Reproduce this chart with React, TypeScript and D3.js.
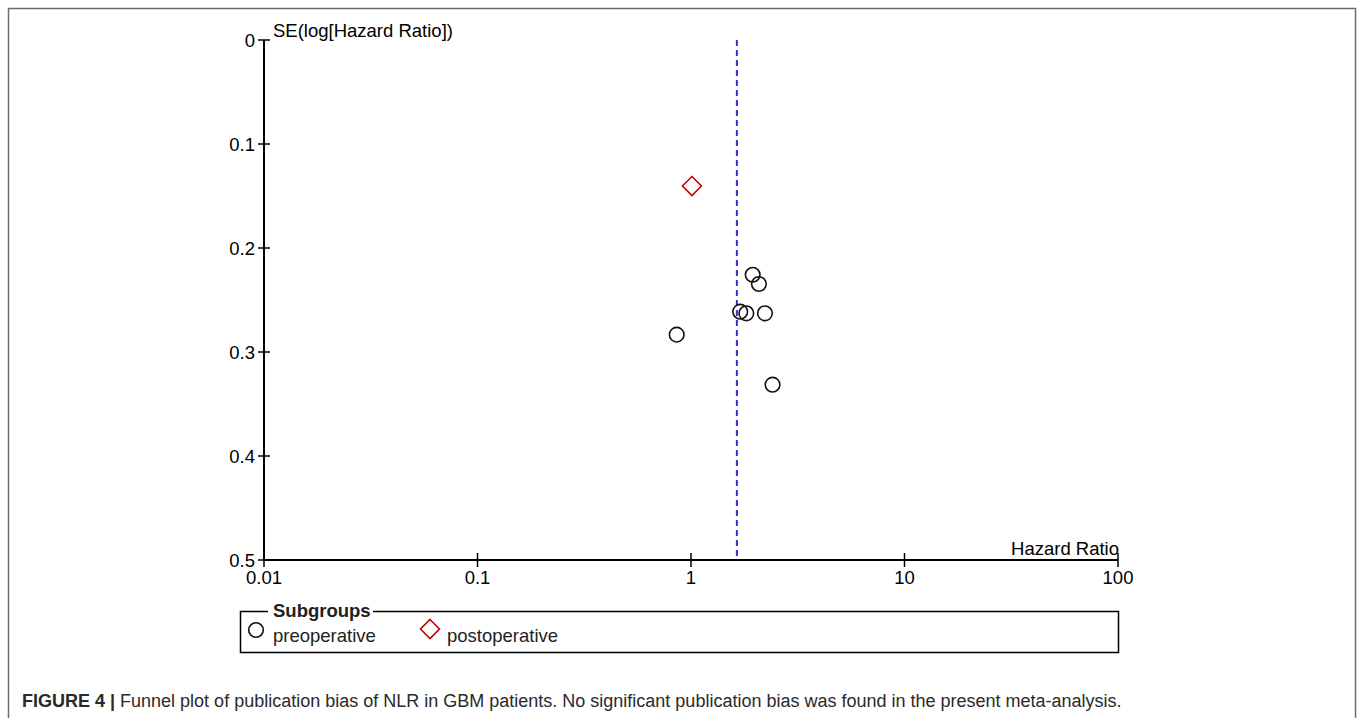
import React from "react";
import * as d3 from "d3";

const preHR = [1.945, 2.08, 1.70, 1.816, 2.22, 0.857, 2.41];
const preSE = [0.2257, 0.2346, 0.2612, 0.2628, 0.2628, 0.2833, 0.3314];
const postHR = [1.01];
const postSE = [0.1404];
const pooledHR = 1.64;
const xTicks = [0.01, 0.1, 1, 10, 100];
const xTickLabels = ["0.01", "0.1", "1", "10", "100"];
const yTicks = [0, 0.1, 0.2, 0.3, 0.4, 0.5];
const yTickLabels = ["0", "0.1", "0.2", "0.3", "0.4", "0.5"];

export default function App() {
  const W = 1358, H = 718;
  const x = d3.scaleLog().domain([0.01, 100]).range([264, 1118]);
  const y = d3.scaleLinear().domain([0, 0.5]).range([40, 560]);
  const font = "'Liberation Sans', Arial, sans-serif";
  const fs = 18.5;
  const diamond = (cx: number, cy: number, r: number) =>
    `M${cx},${cy - r}L${cx + r},${cy}L${cx},${cy + r}L${cx - r},${cy}Z`;
  return (
    <svg width={W} height={H} style={{ position: "absolute", left: 0, top: 0, background: "#fff" }}>
      <rect x={0} y={0} width={W} height={H} fill="#fff" />
      {/* frame */}
      <path d={`M8.5,${H}V8.5H1355.5V${H}`} fill="none" stroke="#6b6b6b" strokeWidth={1.5} />
      {/* y axis */}
      <line x1={264} x2={264} y1={y(0)} y2={y(0.5)} stroke="#000" strokeWidth={2} />
      {yTicks.map((t, i) => (
        <g key={"yt" + i}>
          <line x1={258} x2={i === 5 ? 264 : 270} y1={y(t)} y2={y(t)} stroke="#000" strokeWidth={1.5} />
          <text x={255} y={y(t) + 7} textAnchor="end" fontFamily={font} fontSize={fs} fill="#000">
            {yTickLabels[i]}
          </text>
        </g>
      ))}
      <text x={273} y={37} fontFamily={font} fontSize={fs} fill="#000">SE(log[Hazard Ratio])</text>
      {/* x axis */}
      <line x1={x(0.01)} x2={x(100)} y1={560} y2={560} stroke="#000" strokeWidth={2} />
      {xTicks.map((t, i) => (
        <g key={"xt" + i}>
          <line x1={x(t)} x2={x(t)} y1={553} y2={567} stroke="#000" strokeWidth={1.5} />
          <text x={x(t)} y={584} textAnchor="middle" fontFamily={font} fontSize={fs} fill="#000">
            {xTickLabels[i]}
          </text>
        </g>
      ))}
      <text x={1119} y={555} textAnchor="end" fontFamily={font} fontSize={fs} fill="#000">Hazard Ratio</text>
      {/* pooled line */}
      <line x1={x(pooledHR)} x2={x(pooledHR)} y1={y(0)} y2={556} stroke="#3030d0" strokeWidth={2} strokeDasharray="6,4" />
      {/* points */}
      {preHR.map((v, i) => (
        <circle key={"c" + i} cx={x(v)} cy={y(preSE[i])} r={7.3} fill="none" stroke="#111" strokeWidth={1.6} />
      ))}
      {postHR.map((v, i) => (
        <path key={"d" + i} d={diamond(x(v), y(postSE[i]), 9.5)} fill="none" stroke="#c00000" strokeWidth={1.6} />
      ))}
      {/* legend */}
      <path d="M268,611.5H240.5V652.5H1118.5V611.5H373" fill="none" stroke="#000" strokeWidth={1.5} />
      <text x={273} y={617} fontFamily={font} fontSize={fs} fontWeight="bold" fill="#222">Subgroups</text>
      <circle cx={256} cy={630} r={7.3} fill="none" stroke="#111" strokeWidth={1.6} />
      <text x={273} y={642} fontFamily={font} fontSize={fs} fill="#222">preoperative</text>
      <path d={diamond(430, 629, 9.5)} fill="none" stroke="#c00000" strokeWidth={1.6} />
      <text x={447} y={642} fontFamily={font} fontSize={fs} fill="#222">postoperative</text>
      {/* caption */}
      <text x={22} y={707} fontFamily={font} fontSize={18} fill="#2a2a2a">
        <tspan fontWeight="bold">FIGURE 4 | </tspan>
        <tspan>Funnel plot of publication bias of NLR in GBM patients. No significant publication bias was found in the present meta-analysis.</tspan>
      </text>
    </svg>
  );
}
